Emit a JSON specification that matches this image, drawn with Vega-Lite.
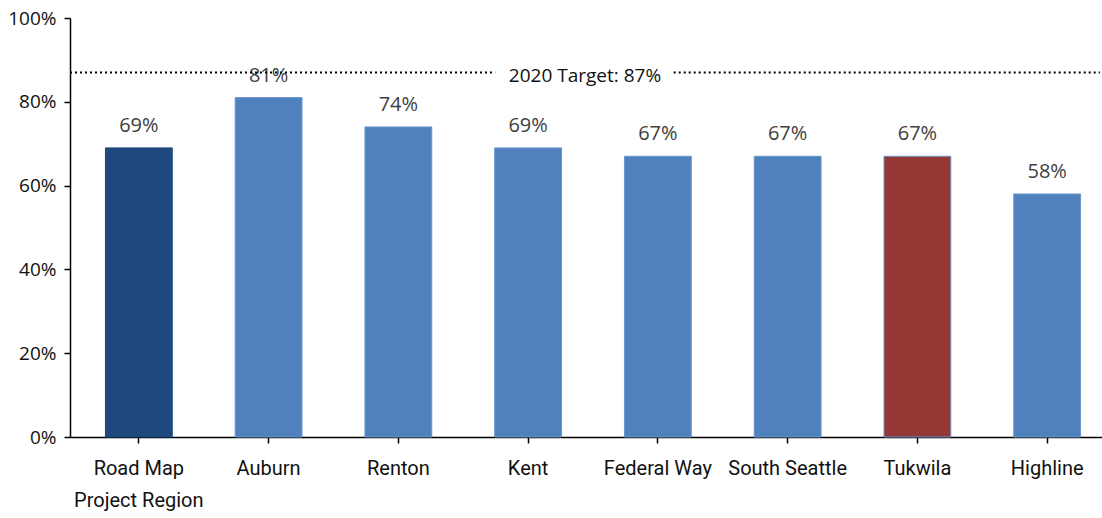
{
  "$schema": "https://vega.github.io/schema/vega-lite/v6.json",
  "width": 1032,
  "height": 419,
  "autosize": "none",
  "padding": {"left": 70, "top": 18, "right": 0, "bottom": 81},
  "background": "white",
  "config": {"view": {"stroke": null}, "font": "Open Sans"},
  "datasets": {
    "bars": [
      {"area": "Road Map Project Region", "rate": 0.69, "group": "region"},
      {"area": "Auburn", "rate": 0.81, "group": "district"},
      {"area": "Renton", "rate": 0.74, "group": "district"},
      {"area": "Kent", "rate": 0.69, "group": "district"},
      {"area": "Federal Way", "rate": 0.67, "group": "district"},
      {"area": "South Seattle", "rate": 0.67, "group": "district"},
      {"area": "Tukwila", "rate": 0.67, "group": "highlight"},
      {"area": "Highline", "rate": 0.58, "group": "district"}
    ],
    "target": [
      {"start": 0, "end": 0.412, "rate": 0.87},
      {"start": 0.585, "end": 0.998, "rate": 0.87}
    ],
    "targetLabel": [
      {"pos": 0.499, "rate": 0.87, "label": "2020 Target: 87%"}
    ]
  },
  "layer": [
    {
      "data": {"name": "bars"},
      "layer": [
        {
          "mark": {"type": "bar", "strokeWidth": 1},
          "encoding": {
            "x": {
              "field": "area", "type": "nominal", "sort": null,
              "scale": {"paddingInner": 0.485, "paddingOuter": 0.273, "range": [0, 1046]},
              "axis": {
                "title": null, "labelAngle": 0, "labelFontSize": 20, "labelColor": "#111",
                "labelFont": "Roboto", "labelPadding": 15, "labelLineHeight": 32,
                "domainColor": "#000", "domainWidth": 1.5, "tickColor": "#000", "tickWidth": 1.5, "tickSize": 6,
                "labelExpr": "datum.value == 'Road Map Project Region' ? ['Road Map', 'Project Region'] : datum.label"
              }
            },
            "y": {
              "field": "rate", "type": "quantitative",
              "scale": {"domain": [0, 1], "nice": false},
              "axis": {
                "title": null, "format": ".0%", "values": [0, 0.2, 0.4, 0.6, 0.8, 1],
                "grid": false, "labelFontSize": 19, "labelColor": "#111", "labelPadding": 8,
                "domainColor": "#000", "domainWidth": 1.5, "tickColor": "#000", "tickWidth": 1.5, "tickSize": 6
              }
            },
            "color": {
              "field": "group", "type": "nominal", "legend": null,
              "scale": {"domain": ["region", "district", "highlight"], "range": ["#1F497D", "#4F81BD", "#953735"]}
            },
            "stroke": {
              "field": "group", "type": "nominal", "legend": null,
              "scale": {"domain": ["region", "district", "highlight"], "range": ["#1F497D", "#6A96CC", "#6A96CC"]}
            }
          }
        },
        {
          "mark": {"type": "text", "baseline": "alphabetic", "dy": -16, "fontSize": 20, "color": "#404040"},
          "encoding": {
            "x": {"field": "area", "type": "nominal", "sort": null},
            "y": {"field": "rate", "type": "quantitative"},
            "text": {"field": "rate", "type": "quantitative", "format": ".0%"}
          }
        }
      ]
    },
    {
      "data": {"name": "target"},
      "mark": {"type": "rule", "strokeDash": [2, 3], "strokeWidth": 2, "color": "#000"},
      "encoding": {
        "x": {"field": "start", "type": "quantitative", "scale": {"domain": [0, 1], "nice": false}, "axis": null},
        "x2": {"field": "end"},
        "y": {"field": "rate", "type": "quantitative"}
      }
    },
    {
      "data": {"name": "targetLabel"},
      "mark": {"type": "text", "fontSize": 19, "color": "#111", "baseline": "middle", "dy": 4},
      "encoding": {
        "x": {"field": "pos", "type": "quantitative", "scale": {"domain": [0, 1], "nice": false}, "axis": null},
        "y": {"field": "rate", "type": "quantitative"},
        "text": {"field": "label"}
      }
    }
  ],
  "resolve": {"scale": {"x": "independent"}}
}
